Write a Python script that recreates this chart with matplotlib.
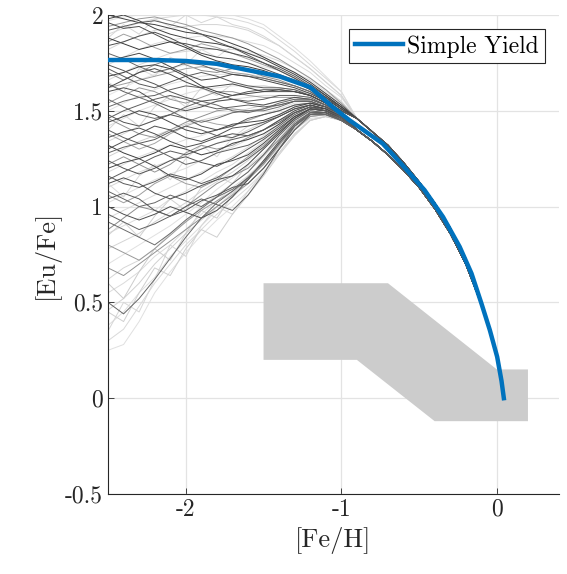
import numpy as np
import matplotlib.pyplot as plt

plt.rcParams['font.family'] = ['cmr10', 'DejaVu Serif']
plt.rcParams['axes.unicode_minus'] = False

# [Fe/H] grid for the stochastic tracks (left part)
grid_x = [-2.5, -2.4, -2.3, -2.2, -2.1, -2.0, -1.9, -1.8, -1.7, -1.6,
          -1.5, -1.4, -1.3, -1.2, -1.1, -1.0]
# common tails once the tracks have converged
tail_x = [-0.9, -0.8, -0.7, -0.6, -0.5, -0.4, -0.3, -0.2, -0.1]
tail_hi = [1.46, 1.39, 1.32, 1.23, 1.13, 1.02, 0.89, 0.73, 0.51]
tail_lo = [1.40, 1.34, 1.27, 1.19, 1.10, 0.99, 0.86, 0.70, 0.49]

dark_tracks = [
    [2.00, 1.98, 1.96, 1.95, 1.93, 1.91, 1.90, 1.88, 1.85, 1.82, 1.78, 1.74, 1.70, 1.65, 1.59, 1.53],
    [1.96, 1.93, 1.94, 1.90, 1.86, 1.85, 1.83, 1.82, 1.80, 1.78, 1.75, 1.71, 1.67, 1.62, 1.57, 1.52],
    [1.92, 1.94, 1.96, 1.97, 1.95, 1.93, 1.90, 1.86, 1.83, 1.79, 1.75, 1.72, 1.68, 1.63, 1.58, 1.52],
    [1.88, 1.85, 1.82, 1.84, 1.86, 1.83, 1.79, 1.76, 1.74, 1.73, 1.71, 1.68, 1.65, 1.61, 1.56, 1.51],
    [1.84, 1.86, 1.89, 1.91, 1.88, 1.84, 1.80, 1.78, 1.77, 1.75, 1.72, 1.69, 1.66, 1.62, 1.57, 1.51],
    [1.80, 1.77, 1.73, 1.70, 1.72, 1.75, 1.74, 1.71, 1.69, 1.68, 1.67, 1.65, 1.63, 1.60, 1.55, 1.50],
    [1.76, 1.78, 1.80, 1.77, 1.73, 1.69, 1.66, 1.67, 1.69, 1.68, 1.66, 1.64, 1.62, 1.59, 1.55, 1.50],
    [1.72, 1.68, 1.64, 1.62, 1.65, 1.68, 1.70, 1.68, 1.65, 1.63, 1.62, 1.62, 1.61, 1.58, 1.54, 1.50],
    [1.68, 1.70, 1.73, 1.74, 1.72, 1.68, 1.63, 1.60, 1.58, 1.59, 1.60, 1.61, 1.60, 1.58, 1.54, 1.49],
    [1.64, 1.60, 1.57, 1.58, 1.61, 1.63, 1.62, 1.59, 1.56, 1.55, 1.56, 1.58, 1.58, 1.57, 1.53, 1.49],
    [1.60, 1.62, 1.60, 1.55, 1.52, 1.50, 1.52, 1.55, 1.56, 1.54, 1.53, 1.55, 1.57, 1.56, 1.53, 1.49],
    [1.56, 1.52, 1.48, 1.46, 1.48, 1.52, 1.55, 1.53, 1.50, 1.49, 1.51, 1.54, 1.56, 1.56, 1.53, 1.48],
    [1.52, 1.55, 1.57, 1.54, 1.50, 1.46, 1.44, 1.46, 1.49, 1.50, 1.50, 1.52, 1.55, 1.55, 1.52, 1.48],
    [1.48, 1.44, 1.42, 1.45, 1.48, 1.46, 1.42, 1.40, 1.42, 1.46, 1.48, 1.50, 1.53, 1.54, 1.52, 1.48],
    [1.44, 1.47, 1.50, 1.48, 1.44, 1.40, 1.38, 1.40, 1.43, 1.44, 1.45, 1.48, 1.52, 1.54, 1.52, 1.48],
    [1.40, 1.36, 1.33, 1.35, 1.39, 1.42, 1.40, 1.37, 1.36, 1.39, 1.43, 1.47, 1.51, 1.53, 1.51, 1.47],
    [1.36, 1.39, 1.41, 1.38, 1.34, 1.31, 1.33, 1.36, 1.38, 1.37, 1.40, 1.45, 1.50, 1.53, 1.51, 1.47],
    [1.32, 1.28, 1.25, 1.28, 1.32, 1.30, 1.27, 1.29, 1.33, 1.35, 1.38, 1.43, 1.49, 1.52, 1.51, 1.47],
    [1.28, 1.31, 1.33, 1.30, 1.26, 1.22, 1.24, 1.28, 1.30, 1.32, 1.36, 1.42, 1.48, 1.52, 1.50, 1.47],
    [1.24, 1.20, 1.17, 1.20, 1.24, 1.26, 1.23, 1.21, 1.25, 1.30, 1.35, 1.41, 1.47, 1.51, 1.50, 1.46],
    [1.20, 1.23, 1.25, 1.21, 1.16, 1.14, 1.17, 1.22, 1.24, 1.27, 1.33, 1.40, 1.47, 1.51, 1.50, 1.46],
    [1.16, 1.12, 1.10, 1.13, 1.17, 1.15, 1.12, 1.15, 1.20, 1.25, 1.31, 1.39, 1.46, 1.51, 1.50, 1.46],
    [1.12, 1.15, 1.12, 1.07, 1.04, 1.07, 1.11, 1.14, 1.16, 1.22, 1.30, 1.38, 1.46, 1.51, 1.50, 1.46],
    [1.08, 1.04, 1.00, 1.02, 1.06, 1.03, 1.00, 1.05, 1.12, 1.18, 1.27, 1.37, 1.45, 1.50, 1.49, 1.46],
    [1.04, 1.07, 1.04, 0.98, 0.95, 0.98, 1.03, 1.06, 1.10, 1.12, 1.20, 1.30, 1.40, 1.48, 1.49, 1.45],
    [1.00, 0.96, 0.93, 0.96, 1.00, 0.97, 0.94, 0.98, 1.05, 1.14, 1.24, 1.34, 1.43, 1.49, 1.49, 1.45],
    [0.96, 0.92, 0.88, 0.91, 0.95, 1.00, 1.04, 1.01, 0.98, 1.06, 1.17, 1.30, 1.42, 1.49, 1.49, 1.45],
    [0.92, 0.88, 0.84, 0.80, 0.86, 0.93, 0.99, 1.05, 1.09, 1.15, 1.23, 1.33, 1.43, 1.49, 1.48, 1.45],
    [0.50, 0.44, 0.52, 0.62, 0.73, 0.84, 0.94, 1.02, 1.08, 1.15, 1.23, 1.33, 1.42, 1.48, 1.48, 1.45],
    [1.98, 2.00, 1.97, 1.93, 1.90, 1.88, 1.86, 1.85, 1.83, 1.80, 1.77, 1.73, 1.69, 1.64, 1.58, 1.52],
    [1.74, 1.71, 1.67, 1.64, 1.60, 1.57, 1.55, 1.56, 1.58, 1.60, 1.61, 1.61, 1.60, 1.58, 1.54, 1.50],
    [1.62, 1.66, 1.70, 1.72, 1.69, 1.65, 1.62, 1.63, 1.64, 1.62, 1.60, 1.60, 1.60, 1.58, 1.54, 1.49],
    [1.46, 1.50, 1.53, 1.56, 1.58, 1.56, 1.53, 1.51, 1.52, 1.53, 1.52, 1.53, 1.55, 1.55, 1.52, 1.48],
    [1.30, 1.34, 1.38, 1.42, 1.40, 1.36, 1.34, 1.37, 1.41, 1.42, 1.44, 1.47, 1.51, 1.53, 1.51, 1.47],
    [1.14, 1.18, 1.22, 1.26, 1.29, 1.27, 1.30, 1.33, 1.35, 1.37, 1.40, 1.44, 1.49, 1.52, 1.50, 1.47],
]
dark_grays = [0.25, 0.3, 0.35, 0.22, 0.3, 0.4, 0.28, 0.35, 0.25, 0.38,
              0.3, 0.4, 0.42, 0.33, 0.27, 0.36, 0.3, 0.24, 0.38, 0.32,
              0.28, 0.35, 0.3, 0.4, 0.34, 0.3, 0.38, 0.42, 0.4, 0.26,
              0.33, 0.29, 0.37, 0.31, 0.36]

mid_tracks = [
    [0.80, 0.76, 0.72, 0.78, 0.85, 0.92, 0.98, 1.03, 1.08, 1.14, 1.22, 1.32, 1.42, 1.48, 1.48, 1.45],
    [0.88, 0.94, 1.00, 0.98, 0.95, 1.00, 1.06, 1.12, 1.16, 1.20, 1.27, 1.35, 1.44, 1.49, 1.49, 1.45],
    [1.06, 1.02, 1.06, 1.12, 1.16, 1.12, 1.10, 1.14, 1.20, 1.26, 1.32, 1.39, 1.46, 1.50, 1.49, 1.46],
    [1.22, 1.26, 1.22, 1.18, 1.22, 1.28, 1.32, 1.30, 1.32, 1.36, 1.40, 1.45, 1.49, 1.52, 1.50, 1.47],
    [1.38, 1.34, 1.30, 1.33, 1.38, 1.42, 1.45, 1.43, 1.42, 1.45, 1.48, 1.50, 1.53, 1.54, 1.52, 1.48],
    [1.54, 1.58, 1.62, 1.60, 1.56, 1.54, 1.57, 1.60, 1.60, 1.58, 1.57, 1.57, 1.57, 1.56, 1.53, 1.49],
    [1.70, 1.66, 1.70, 1.74, 1.77, 1.74, 1.71, 1.70, 1.72, 1.71, 1.68, 1.66, 1.63, 1.60, 1.55, 1.50],
    [1.86, 1.90, 1.87, 1.83, 1.80, 1.82, 1.85, 1.83, 1.80, 1.77, 1.74, 1.71, 1.67, 1.63, 1.57, 1.51],
    [0.68, 0.64, 0.70, 0.76, 0.82, 0.88, 0.94, 1.00, 1.06, 1.12, 1.20, 1.30, 1.40, 1.47, 1.48, 1.45],
    [1.94, 1.96, 1.98, 1.99, 1.97, 1.95, 1.92, 1.90, 1.88, 1.85, 1.81, 1.77, 1.72, 1.67, 1.61, 1.54],
    [1.46, 1.42, 1.38, 1.36, 1.40, 1.44, 1.47, 1.50, 1.51, 1.50, 1.51, 1.53, 1.55, 1.55, 1.52, 1.48],
    [1.62, 1.64, 1.66, 1.68, 1.70, 1.72, 1.73, 1.72, 1.70, 1.69, 1.67, 1.65, 1.63, 1.60, 1.55, 1.50],
]
mid_grays = [0.6, 0.55, 0.62, 0.58, 0.65, 0.6, 0.55, 0.63, 0.58, 0.6, 0.57, 0.62]

light_tracks = [
    [0.25, 0.28, 0.40, 0.55, 0.66, 0.76, 0.85, 0.93, 1.00, 1.08, 1.17, 1.28, 1.38, 1.45, 1.47, 1.45],
    [0.30, 0.36, 0.48, 0.60, 0.70, 0.80, 0.88, 0.96, 1.03, 1.10, 1.18, 1.28, 1.38, 1.45, 1.47, 1.45],
    [0.38, 0.45, 0.55, 0.63, 0.74, 0.82, 0.90, 0.98, 1.05, 1.12, 1.20, 1.30, 1.40, 1.46, 1.47, 1.45],
    [0.46, 0.52, 0.60, 0.70, 0.78, 0.86, 0.93, 1.00, 1.07, 1.14, 1.22, 1.31, 1.40, 1.47, 1.48, 1.45],
    [0.55, 0.60, 0.66, 0.74, 0.80, 0.88, 0.96, 1.03, 1.10, 1.16, 1.24, 1.33, 1.42, 1.48, 1.48, 1.45],
    [0.62, 0.68, 0.72, 0.78, 0.86, 0.92, 1.00, 1.06, 1.12, 1.18, 1.26, 1.35, 1.43, 1.48, 1.48, 1.46],
    [0.70, 0.75, 0.80, 0.85, 0.90, 0.96, 1.02, 1.09, 1.15, 1.21, 1.28, 1.36, 1.44, 1.49, 1.49, 1.46],
    [0.78, 0.82, 0.86, 0.92, 0.97, 1.02, 1.08, 1.13, 1.18, 1.24, 1.31, 1.38, 1.45, 1.50, 1.49, 1.46],
    [0.86, 0.90, 0.94, 0.98, 1.04, 1.08, 1.13, 1.18, 1.22, 1.28, 1.34, 1.40, 1.47, 1.51, 1.50, 1.47],
    [0.94, 0.98, 1.02, 1.06, 1.10, 1.14, 1.18, 1.22, 1.26, 1.31, 1.37, 1.43, 1.48, 1.51, 1.50, 1.47],
    [1.02, 1.06, 1.10, 1.14, 1.17, 1.20, 1.24, 1.28, 1.31, 1.35, 1.40, 1.45, 1.50, 1.52, 1.50, 1.47],
    [1.10, 1.14, 1.18, 1.21, 1.24, 1.27, 1.30, 1.33, 1.36, 1.40, 1.44, 1.48, 1.52, 1.53, 1.51, 1.47],
    [1.18, 1.22, 1.26, 1.29, 1.32, 1.35, 1.37, 1.40, 1.42, 1.45, 1.48, 1.51, 1.54, 1.54, 1.52, 1.48],
    [1.26, 1.30, 1.34, 1.37, 1.40, 1.43, 1.45, 1.47, 1.49, 1.51, 1.53, 1.55, 1.56, 1.55, 1.52, 1.48],
    [1.34, 1.38, 1.42, 1.45, 1.48, 1.51, 1.53, 1.55, 1.56, 1.57, 1.58, 1.58, 1.58, 1.57, 1.53, 1.49],
    [1.42, 1.46, 1.50, 1.53, 1.56, 1.59, 1.61, 1.62, 1.63, 1.63, 1.63, 1.62, 1.61, 1.59, 1.55, 1.50],
    [1.50, 1.54, 1.58, 1.61, 1.64, 1.66, 1.68, 1.69, 1.69, 1.69, 1.68, 1.67, 1.65, 1.62, 1.57, 1.52],
    [1.58, 1.62, 1.66, 1.69, 1.72, 1.74, 1.75, 1.76, 1.76, 1.75, 1.73, 1.71, 1.68, 1.64, 1.59, 1.54],
    [1.66, 1.70, 1.74, 1.77, 1.80, 1.81, 1.82, 1.82, 1.82, 1.81, 1.79, 1.76, 1.72, 1.67, 1.61, 1.55],
    [1.74, 1.78, 1.82, 1.85, 1.87, 1.88, 1.89, 1.89, 1.88, 1.86, 1.84, 1.80, 1.75, 1.70, 1.63, 1.57],
    [1.82, 1.86, 1.89, 1.92, 1.93, 1.94, 1.95, 1.95, 1.94, 1.92, 1.88, 1.84, 1.78, 1.72, 1.65, 1.58],
    [1.90, 1.93, 1.96, 1.98, 1.99, 2.00, 2.00, 1.99, 1.98, 1.96, 1.93, 1.87, 1.81, 1.74, 1.67, 1.60],
    [1.97, 1.99, 2.00, 2.00, 2.00, 2.00, 2.00, 2.00, 2.00, 1.98, 1.95, 1.89, 1.83, 1.76, 1.68, 1.60],
    [0.35, 0.50, 0.45, 0.62, 0.80, 0.74, 0.90, 1.00, 0.96, 1.08, 1.18, 1.28, 1.38, 1.45, 1.47, 1.45],
    [0.60, 0.52, 0.66, 0.78, 0.72, 0.86, 0.98, 0.94, 1.06, 1.16, 1.22, 1.32, 1.41, 1.47, 1.48, 1.45],
    [0.85, 0.92, 0.84, 0.95, 1.04, 0.98, 1.10, 1.16, 1.12, 1.22, 1.30, 1.38, 1.45, 1.50, 1.49, 1.46],
    [1.12, 1.05, 1.16, 1.22, 1.14, 1.25, 1.32, 1.26, 1.36, 1.42, 1.44, 1.48, 1.52, 1.53, 1.51, 1.47],
    [1.40, 1.48, 1.42, 1.52, 1.58, 1.52, 1.62, 1.58, 1.64, 1.62, 1.63, 1.62, 1.61, 1.59, 1.55, 1.50],
    [1.65, 1.60, 1.72, 1.68, 1.78, 1.74, 1.82, 1.78, 1.84, 1.80, 1.78, 1.74, 1.70, 1.66, 1.60, 1.54],
    [1.88, 1.95, 1.90, 1.98, 1.94, 2.00, 1.96, 1.99, 1.95, 1.93, 1.89, 1.84, 1.78, 1.72, 1.65, 1.58],
    [0.45, 0.40, 0.55, 0.68, 0.64, 0.78, 0.88, 0.84, 0.96, 1.06, 1.16, 1.27, 1.37, 1.45, 1.47, 1.45],
]
light_grays = [0.88, 0.85, 0.87, 0.82, 0.86, 0.84, 0.88, 0.83, 0.86, 0.85,
               0.87, 0.84, 0.86, 0.82, 0.85, 0.87, 0.88, 0.9, 0.84, 0.86,
               0.83, 0.85, 0.87, 0.84, 0.8, 0.82, 0.85, 0.83, 0.86, 0.84,
               0.81]

# simple yield curve
yield_x = [-2.5, -2.2, -2.0, -1.8, -1.6, -1.4, -1.2, -1.056, -0.948, -0.85,
           -0.734, -0.6, -0.465, -0.346, -0.239, -0.163, -0.099, -0.045,
           0.002, 0.03, 0.045]
yield_y = [1.765, 1.765, 1.76, 1.745, 1.712, 1.68, 1.623, 1.52, 1.451, 1.395,
           1.329, 1.21, 1.086, 0.946, 0.79, 0.651, 0.494, 0.355,
           0.216, 0.09, 0.0]

# observed region
obs_x = [-1.5, -0.7, 0.0, 0.2, 0.2, -0.4, -0.9, -1.5]
obs_y = [0.6, 0.6, 0.15, 0.15, -0.12, -0.12, 0.2, 0.2]

fig = plt.figure(figsize=(5.67, 5.74), dpi=100)
ax = fig.add_axes([0.1905, 0.1394, 0.7955, 0.8345])


def draw(tracks, grays):
    for tr, g in zip(tracks, grays):
        tail = tail_hi if tr[-1] >= 1.50 else tail_lo
        ax.plot(grid_x + tail_x, tr + tail, color=str(g), lw=0.7, zorder=2)


draw(light_tracks, light_grays)
draw(mid_tracks, mid_grays)
draw(dark_tracks, dark_grays)

ax.fill(obs_x, obs_y, color='#cccccc', lw=0, zorder=3)
ax.plot(yield_x, yield_y, color='#0072BD', lw=3.2, label='Simple Yield',
        zorder=4, solid_joinstyle='round')

ax.set_xlim(-2.5, 0.4)
ax.set_ylim(-0.5, 2)
ax.set_xticks([-2, -1, 0])
ax.set_xticklabels(['-2', '-1', '0'])
ax.set_yticks([-0.5, 0, 0.5, 1, 1.5, 2])
ax.set_yticklabels(['-0.5', '0', '0.5', '1', '1.5', '2'])
ax.grid(True, color='#e3e3e3', lw=0.9, zorder=0)
ax.set_axisbelow(True)
for s in ['top', 'right']:
    ax.spines[s].set_visible(False)
for s in ['left', 'bottom']:
    ax.spines[s].set_color('#262626')
    ax.spines[s].set_linewidth(0.8)
ax.tick_params(direction='in', length=4, width=0.6, colors='#262626',
               labelsize=17, labelcolor='#262626')
ax.set_xlabel('[Fe/H]', fontsize=19, color='#262626')
ax.set_ylabel('[Eu/Fe]', fontsize=19, color='#262626')

leg = ax.legend(loc='upper right', fontsize=17, fancybox=False, framealpha=1,
                edgecolor='#262626', handlelength=2.0, handletextpad=0.2,
                borderpad=0.25, borderaxespad=0.6)
leg.get_frame().set_linewidth(0.8)

fig.savefig('out.png', dpi=100)
